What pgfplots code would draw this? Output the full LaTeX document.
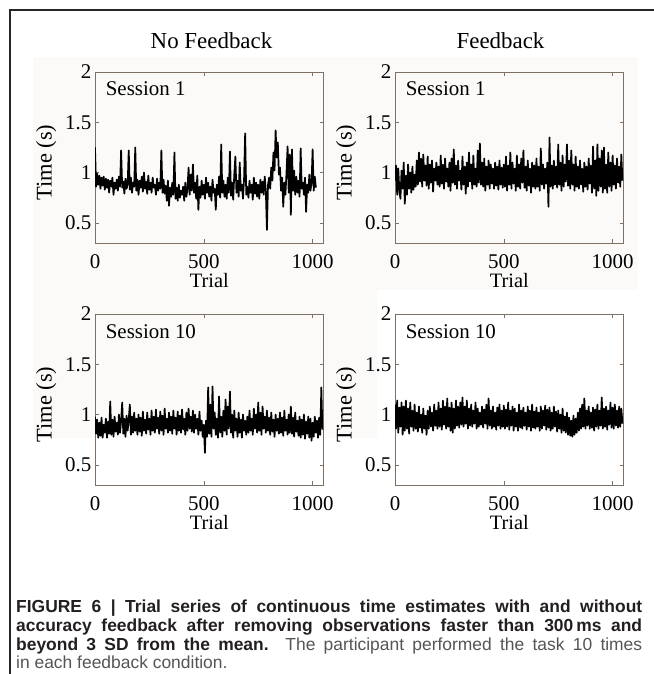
\documentclass[border=0pt]{standalone}
\usepackage{pgfplots}
\usepackage{pgfplotstable}
\pgfplotsset{compat=1.18}
\usepackage{fontspec}
\setmainfont{Liberation Serif}
\newfontfamily\capfont{Liberation Sans}
\definecolor{framecol}{RGB}{125,112,100}
\definecolor{caphead}{RGB}{35,31,32}
\definecolor{captext}{RGB}{85,85,88}
\definecolor{panelbg}{RGB}{251,250,249}

% trial series, one value every 5 trials
\pgfplotstableread[row sep=\\,header=false]{
1.25\\0.86\\0.99\\0.88\\0.97\\0.84\\0.95\\0.87\\0.96\\0.83\\
0.94\\0.85\\0.93\\0.80\\0.92\\0.86\\0.95\\0.78\\0.90\\0.84\\
0.93\\0.82\\0.96\\0.86\\1.22\\0.85\\0.91\\0.79\\0.94\\0.84\\
0.88\\1.22\\0.83\\0.95\\0.80\\0.90\\0.86\\1.25\\0.82\\0.93\\
0.78\\0.92\\0.85\\0.96\\0.81\\1.00\\0.84\\0.91\\0.79\\0.97\\
0.83\\0.90\\0.80\\0.95\\0.85\\0.88\\0.78\\0.94\\0.82\\0.90\\
0.84\\1.22\\0.80\\0.93\\0.79\\0.87\\0.72\\0.92\\0.67\\0.85\\
0.76\\0.90\\0.78\\1.20\\0.74\\0.85\\0.72\\0.88\\0.75\\0.82\\
0.78\\0.86\\0.72\\0.90\\0.76\\0.84\\1.05\\0.78\\0.98\\0.82\\
1.08\\0.80\\0.90\\0.74\\0.97\\0.63\\0.86\\0.75\\0.92\\0.78\\
0.88\\0.74\\0.95\\0.80\\0.90\\0.76\\0.86\\0.72\\0.93\\0.80\\
0.84\\0.63\\0.88\\0.78\\0.96\\0.75\\1.28\\0.80\\0.92\\0.76\\
0.88\\0.74\\0.95\\0.80\\1.21\\0.77\\0.90\\0.73\\0.98\\1.16\\
0.80\\0.92\\0.76\\1.10\\0.82\\0.88\\0.74\\0.94\\1.39\\0.78\\
0.86\\0.75\\0.92\\0.80\\0.88\\0.73\\0.95\\0.79\\0.90\\0.76\\
0.88\\0.74\\0.93\\0.80\\0.91\\0.78\\0.96\\0.82\\0.43\\0.88\\
0.95\\0.84\\1.05\\0.92\\1.20\\1.02\\1.42\\1.15\\1.30\\0.98\\
1.05\\0.82\\0.95\\0.66\\0.90\\0.78\\1.00\\1.26\\0.80\\1.18\\
0.58\\1.23\\0.82\\1.02\\0.78\\0.96\\0.80\\0.92\\0.76\\1.24\\
0.84\\0.90\\0.78\\0.95\\0.61\\0.88\\0.80\\0.98\\0.82\\0.90\\
1.23\\0.82\\0.96\\0.85\\
}\nfone

\pgfplotstableread[row sep=\\,header=false]{
0.92\\1.07\\0.78\\1.04\\0.82\\0.74\\1.02\\0.84\\1.10\\0.69\\
0.97\\0.78\\1.08\\0.84\\1.00\\0.80\\1.06\\0.83\\0.98\\0.86\\
1.12\\0.88\\1.20\\0.91\\1.14\\0.86\\1.18\\0.92\\1.07\\0.87\\
1.16\\0.84\\1.08\\0.90\\1.12\\0.81\\1.04\\0.92\\1.10\\0.88\\
1.06\\0.86\\1.17\\0.89\\1.08\\0.84\\1.14\\0.91\\1.04\\0.86\\
1.10\\0.82\\1.14\\0.90\\1.23\\0.88\\1.07\\0.84\\1.12\\0.92\\
1.02\\0.83\\1.16\\0.88\\1.06\\0.79\\1.10\\0.86\\1.20\\0.91\\
1.08\\0.84\\1.17\\0.88\\1.04\\0.86\\1.22\\0.90\\1.29\\0.88\\
1.10\\0.86\\1.14\\0.82\\1.06\\0.88\\1.12\\0.84\\1.08\\0.89\\
1.04\\0.84\\1.10\\0.87\\1.06\\0.83\\1.12\\0.88\\1.05\\0.85\\
1.08\\0.86\\1.16\\0.82\\1.07\\0.88\\1.20\\0.84\\1.10\\0.89\\
1.04\\0.82\\1.17\\0.86\\1.08\\0.84\\1.14\\0.90\\1.22\\0.85\\
1.06\\0.82\\1.12\\0.87\\1.04\\0.80\\1.10\\0.86\\1.07\\0.84\\
1.14\\0.86\\1.06\\0.82\\1.24\\0.88\\1.08\\0.84\\1.04\\0.89\\
1.10\\0.66\\1.35\\0.86\\1.07\\0.84\\1.12\\0.88\\1.06\\0.85\\
1.28\\0.88\\1.10\\0.82\\1.17\\0.86\\1.08\\0.91\\1.28\\0.87\\
1.12\\0.84\\1.22\\0.88\\1.08\\0.82\\1.16\\0.86\\1.06\\0.84\\
1.12\\0.88\\1.04\\0.81\\1.10\\0.86\\1.06\\0.83\\1.14\\0.89\\
1.07\\0.80\\1.26\\0.84\\1.12\\0.77\\1.28\\0.82\\1.14\\0.86\\
1.22\\0.80\\1.25\\0.84\\1.08\\0.80\\1.20\\0.86\\1.10\\0.82\\
1.17\\0.88\\1.07\\0.84\\1.14\\0.90\\1.06\\0.86\\1.18\\0.92\\
}\fone

\pgfplotstableread[row sep=\\,header=false]{
0.98\\0.81\\0.95\\0.77\\0.92\\0.79\\0.97\\0.77\\0.90\\0.82\\
0.96\\0.77\\0.93\\0.81\\1.13\\0.80\\0.95\\0.78\\0.98\\0.83\\
0.92\\0.80\\1.00\\0.82\\0.94\\1.12\\0.81\\0.96\\0.78\\0.99\\
0.84\\0.95\\1.10\\0.80\\0.98\\0.82\\1.02\\0.84\\0.96\\0.80\\
1.00\\0.83\\0.97\\0.79\\1.03\\0.84\\0.95\\0.81\\1.02\\0.85\\
0.96\\0.80\\1.04\\0.84\\0.98\\0.82\\1.05\\0.86\\0.97\\0.81\\
1.03\\0.84\\0.99\\0.80\\1.06\\0.86\\0.96\\0.82\\1.02\\0.84\\
0.98\\0.81\\1.04\\0.86\\0.97\\0.80\\1.03\\0.84\\0.99\\0.82\\
1.05\\0.85\\0.96\\0.80\\1.02\\0.84\\1.06\\0.86\\0.98\\0.83\\
1.04\\0.82\\1.00\\0.86\\0.96\\0.80\\1.03\\0.84\\0.94\\0.78\\
0.90\\0.62\\0.94\\0.78\\1.27\\0.81\\1.10\\0.78\\1.28\\0.86\\
1.02\\0.80\\0.96\\0.77\\1.18\\0.82\\0.98\\0.78\\1.04\\0.84\\
1.15\\0.80\\1.08\\0.86\\1.23\\0.82\\1.00\\0.77\\1.04\\0.84\\
0.96\\0.78\\1.02\\0.82\\0.95\\0.77\\1.00\\0.84\\0.94\\0.80\\
0.98\\0.82\\1.04\\0.84\\0.96\\0.80\\1.06\\0.86\\1.00\\0.82\\
1.12\\0.84\\1.02\\0.80\\1.08\\0.86\\0.98\\0.82\\1.04\\0.84\\
0.97\\0.80\\1.02\\0.83\\0.95\\0.78\\1.00\\0.84\\0.96\\0.81\\
1.02\\0.82\\0.97\\0.79\\1.04\\0.84\\0.95\\0.80\\1.00\\0.82\\
1.08\\0.81\\0.97\\0.78\\1.02\\0.83\\0.94\\0.79\\0.98\\0.77\\
0.95\\0.80\\1.00\\0.76\\0.93\\0.81\\0.98\\0.77\\0.96\\0.74\\
0.92\\0.78\\0.98\\0.82\\0.94\\0.77\\0.97\\0.80\\1.27\\0.85\\
}\nften

\pgfplotstableread[row sep=\\,header=false]{
1.10\\0.86\\1.14\\0.82\\1.07\\0.88\\1.12\\0.80\\1.08\\0.84\\
1.14\\0.86\\1.06\\0.81\\1.12\\0.88\\1.04\\0.84\\1.10\\0.86\\
1.02\\0.83\\1.08\\0.87\\1.00\\0.82\\1.06\\0.86\\0.99\\0.80\\
1.04\\0.86\\1.08\\0.88\\1.02\\0.84\\1.10\\0.89\\1.04\\0.86\\
1.12\\0.88\\1.06\\0.85\\1.14\\0.90\\1.08\\0.86\\1.16\\0.88\\
1.07\\0.84\\1.12\\0.82\\1.06\\0.86\\1.14\\0.89\\1.08\\0.87\\
1.12\\0.90\\1.17\\0.88\\1.08\\0.91\\1.14\\0.86\\1.06\\0.89\\
1.10\\0.88\\1.04\\0.91\\1.12\\0.86\\1.06\\0.88\\1.02\\0.90\\
1.08\\0.87\\1.05\\0.91\\1.10\\0.86\\1.16\\0.89\\1.04\\0.86\\
1.08\\0.88\\1.02\\0.85\\1.07\\0.89\\1.10\\0.86\\1.04\\0.88\\
1.09\\0.86\\1.05\\0.88\\1.12\\0.85\\1.04\\0.89\\1.08\\0.84\\
1.06\\0.88\\1.02\\0.84\\1.10\\0.87\\1.04\\0.86\\1.07\\0.89\\
1.02\\0.85\\1.08\\0.88\\1.04\\0.84\\1.10\\0.87\\1.03\\0.86\\
1.07\\0.88\\1.02\\0.84\\1.08\\0.86\\1.04\\0.89\\1.09\\0.85\\
1.05\\0.87\\1.07\\0.84\\1.02\\0.86\\1.08\\0.88\\1.03\\0.83\\
1.04\\0.86\\1.00\\0.82\\1.06\\0.84\\0.98\\0.82\\1.02\\0.80\\
0.97\\0.79\\0.94\\0.78\\0.99\\0.80\\0.96\\0.82\\1.02\\0.84\\
1.06\\0.86\\1.10\\0.88\\1.16\\0.86\\1.04\\0.89\\1.08\\0.86\\
1.02\\0.87\\1.07\\0.84\\1.05\\0.88\\1.10\\0.86\\1.04\\0.89\\
1.17\\0.86\\1.06\\0.88\\1.08\\0.85\\1.04\\0.90\\1.12\\0.87\\
1.07\\0.86\\1.10\\0.89\\1.04\\0.87\\1.08\\0.88\\1.06\\0.91\\
}\ften

\pgfplotsset{
  panel/.style={
    width=228.5bp, height=171bp, scale only axis,
    xmin=0, xmax=1050, ymin=0.3, ymax=2,
    xtick={0,500,1000}, ytick={0.5,1,1.5,2},
    axis line style={framecol, line width=0.7bp},
    tick style={framecol, line width=0.6bp},
    major tick length=4bp, tick align=inside,
    scaled ticks=false,
    /pgf/number format/1000 sep={},
    /pgf/number format/assume math mode=true,
    tick label style={font=\fontsize{21}{23}\selectfont},
    xticklabel style={anchor=base, yshift=-25bp},
    yticklabel style={anchor=east, inner sep=0pt, xshift=-3.5bp},
    xlabel={Trial},
    xlabel style={at={(axis description cs:0.5,0)}, anchor=base, yshift=-44bp,
      font=\fontsize{20.5}{22}\selectfont},
    ylabel={Time (s)},
    ylabel style={at={(axis description cs:-0.213,0.47)}, anchor=center,
      font=\fontsize{22.5}{24}\selectfont},
  },
  series/.style={black, line width=1.7bp, line join=round, no markers},
}

\begin{document}
\begin{tikzpicture}[x=1bp,y=1bp]
\path[use as bounding box] (0,0) rectangle (654,-674);
\fill[panelbg] (33,-57) rectangle (638,-290);
\fill[panelbg] (33,-290) rectangle (377,-438);
\draw[line width=2bp, black!85] (10,-674) -- (10,-10) -- (654,-10);

\node[anchor=base, font=\fontsize{23}{26}\selectfont] at (211.5,-48.3) {No Feedback};
\node[anchor=base, font=\fontsize{23}{26}\selectfont] at (500.5,-48.3) {Feedback};

\begin{axis}[panel, at={(95bp,-243bp)}, anchor=south west]
\addplot[series] table[x expr=\coordindex*5, y index=0] {\nfone};
\node[anchor=base west, font=\fontsize{21}{23}\selectfont] at (rel axis cs:0.032,0.865) {Session 1};
\end{axis}

\begin{axis}[panel, at={(395bp,-243bp)}, anchor=south west]
\addplot[series] table[x expr=\coordindex*5, y index=0] {\fone};
\node[anchor=base west, font=\fontsize{21}{23}\selectfont] at (rel axis cs:0.032,0.865) {Session 1};
\end{axis}

\begin{axis}[panel, at={(95bp,-485bp)}, anchor=south west]
\addplot[series] table[x expr=\coordindex*5, y index=0] {\nften};
\node[anchor=base west, font=\fontsize{21}{23}\selectfont] at (rel axis cs:0.032,0.855) {Session 10};
\end{axis}

\begin{axis}[panel, at={(395bp,-485bp)}, anchor=south west]
\addplot[series] table[x expr=\coordindex*5, y index=0] {\ften};
\node[anchor=base west, font=\fontsize{21}{23}\selectfont] at (rel axis cs:0.032,0.855) {Session 10};
\end{axis}

% caption
\node[anchor=base west, inner sep=0pt] at (16,-612) {\capfont\fontsize{17.5}{19}\selectfont\color{caphead}\makebox[626bp][s]{\bfseries FIGURE 6 | Trial series of continuous time estimates with and without}};
\node[anchor=base west, inner sep=0pt] at (16,-631) {\capfont\fontsize{17.5}{19}\selectfont\color{caphead}\makebox[626bp][s]{\bfseries accuracy feedback after removing observations faster than 300\,ms and}};
\node[anchor=base west, inner sep=0pt] at (16,-650) {\capfont\fontsize{17.5}{19}\selectfont\makebox[626bp][s]{\color{caphead}\bfseries beyond 3 SD from the mean. \color{captext}\mdseries The participant performed the task 10 times}};
\node[anchor=base west, inner sep=0pt] at (16,-668.5) {\capfont\fontsize{17.5}{19}\selectfont\color{captext}in each feedback condition.};
\end{tikzpicture}
\end{document}
